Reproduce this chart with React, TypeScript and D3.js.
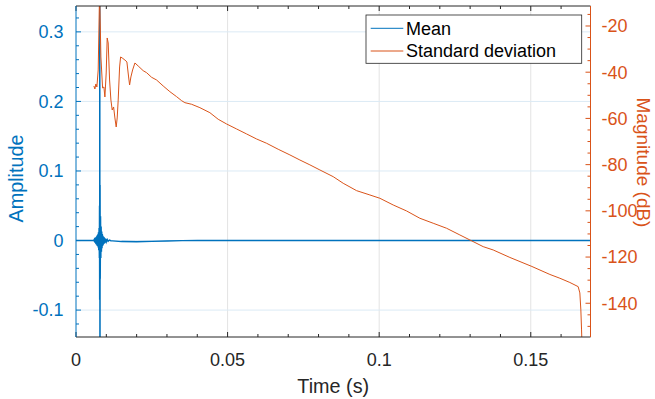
import React from "react";
import * as d3 from "d3";

// ---- data ----
// Mean (amplitude) samples: [time (s), amplitude]
const meanSeries: [number, number][] = [
  [0.0, 0], [0.0058, 0], [0.006, 0.0015], [0.0061, -0.002], [0.0062, 0.003], [0.0063, -0.0035],
  [0.0064, 0.004], [0.0065, -0.0045], [0.0066, 0.005], [0.0067, -0.0055], [0.0068, 0.006],
  [0.0069, -0.007], [0.007, 0.0075], [0.0071, -0.008], [0.0072, 0.009], [0.0073, -0.01],
  [0.0074, 0.012], [0.0075, -0.014], [0.0076, 0.018], [0.0077, -0.025], [0.00775, 0.05],
  [0.0078, -0.085], [0.00785, 0.6], [0.0079, -0.6], [0.00795, 0.08], [0.008, -0.055],
  [0.0081, 0.035], [0.0082, -0.025], [0.0083, 0.02], [0.0084, -0.016], [0.0085, 0.013],
  [0.0086, -0.011], [0.0087, 0.0095], [0.0088, -0.008], [0.0089, 0.007], [0.009, -0.006],
  [0.0091, 0.0055], [0.0092, -0.005], [0.0093, 0.0045], [0.0094, -0.004], [0.0095, 0.0035],
  [0.0096, -0.003], [0.0098, 0.0025], [0.01, -0.002], [0.0103, 0.0015], [0.0106, -0.0012],
  [0.011, 0.0006], [0.0115, -0.0003], [0.012, -0.0005], [0.015, -0.0015], [0.02, -0.0018],
  [0.025, -0.0012], [0.03, -0.0006], [0.035, -0.0002], [0.04, 0], [0.1697, 0],
];

// Standard deviation (magnitude, dB) samples: [time (s), dB]
const stdSeries: [number, number][] = [
  [0.0059, -45.96], [0.00623, -47.26], [0.00656, -45.1], [0.00689, -46.4], [0.00732, -39.04],
  [0.00778, -5], [0.00821, -33.41], [0.00877, -46.83], [0.0092, -46.4], [0.00953, -50.72],
  [0.00996, -40.34], [0.01029, -25.19], [0.01062, -27.36], [0.01108, -43.37], [0.01151, -52.02],
  [0.01194, -56.35], [0.0124, -55.05], [0.01283, -59.81], [0.01326, -63.7], [0.01359, -59.81],
  [0.01392, -52.02], [0.01438, -37.74], [0.01471, -33.41], [0.01524, -33.85], [0.01613, -34.71],
  [0.01679, -35.58], [0.01735, -42.07], [0.01768, -45.53], [0.01811, -42.07], [0.01867, -39.04],
  [0.01943, -36.01], [0.02051, -37.31], [0.02216, -39.34], [0.02328, -40.21], [0.02493, -42.2],
  [0.02658, -43.37], [0.02876, -45.96], [0.03097, -48.43], [0.03318, -50.59], [0.03483, -52.32],
  [0.03592, -53.19], [0.03813, -53.88], [0.04086, -55.35], [0.04416, -57.52], [0.0469, -60.37],
  [0.04967, -62.41], [0.05297, -64.57], [0.05627, -66.73], [0.05956, -68.9], [0.06286, -70.76],
  [0.06669, -73.35], [0.07055, -75.8], [0.07385, -78.0], [0.07714, -80.1], [0.08044, -82.31],
  [0.08483, -85.21], [0.08813, -88.07], [0.09255, -91.27], [0.09693, -93.13], [0.10023, -94.56],
  [0.10462, -97.46], [0.10904, -100.05], [0.11342, -103.21], [0.11781, -105.37], [0.12223, -107.54],
  [0.12662, -110.44], [0.12991, -112.6], [0.1343, -115.5], [0.1376, -116.93], [0.14311, -120.17],
  [0.15036, -124.07], [0.1563, -127.53], [0.1596, -129.17], [0.16289, -131.0], [0.16563, -132.8],
  [0.16619, -135.53], [0.16652, -142.89], [0.16675, -151.54], [0.16695, -160],
];

const xMajor = [0, 0.05, 0.1, 0.15];
const xMajorLabels = ["0", "0.05", "0.1", "0.15"];
const xMinor = [0.01, 0.02, 0.03, 0.04, 0.06, 0.07, 0.08, 0.09, 0.11, 0.12, 0.13, 0.14, 0.16];
const yLMajor = [-0.1, 0, 0.1, 0.2, 0.3];
const yLMajorLabels = ["-0.1", "0", "0.1", "0.2", "0.3"];
const yLMinor = [-0.12, -0.08, -0.06, -0.04, -0.02, 0.02, 0.04, 0.06, 0.08, 0.12, 0.14, 0.16, 0.18, 0.22, 0.24, 0.26, 0.28, 0.32];
const yRMajor = [-140, -120, -100, -80, -60, -40, -20];
const yRMajorLabels = ["-140", "-120", "-100", "-80", "-60", "-40", "-20"];
const yRMinor = [-150, -145, -135, -130, -125, -115, -110, -105, -95, -90, -85, -75, -70, -65, -55, -50, -45, -35, -30, -25, -15];
const legendLabels = ["Mean", "Standard deviation"];

const BLUE = "#0072BD";
const ORANGE = "#D95319";
const DARK = "#262626";
const FONT = "'Liberation Sans', Arial, Helvetica, sans-serif";

export default function App() {
  const W = 655, H = 399;
  const L = 76, R = 590.5, T = 6, B = 337;
  const x = d3.scaleLinear().domain([0, 0.1697]).range([L, R]);
  const yL = d3.scaleLinear().domain([-0.1387, 0.3372]).range([B, T]);
  const yR = d3.scaleLinear().domain([-154.6, -11.35]).range([B, T]);

  const meanLine = d3.line<[number, number]>().x(d => x(d[0])).y(d => yL(d[1]))(meanSeries) || "";
  const stdLine = d3.line<[number, number]>().x(d => x(d[0])).y(d => yR(d[1]))(stdSeries) || "";

  const tickLen = 5;
  const minorLen = 3;

  return (
    <div style={{ position: "fixed", left: 0, top: 0 }}>
      <svg width={W} height={H} style={{ display: "block", background: "#fff" }} fontFamily={FONT}>
        <defs>
          <clipPath id="plotclip">
            <rect x={L} y={T} width={R - L} height={B - T} />
          </clipPath>
        </defs>
        {/* grid */}
        {xMajor.filter(v => v > 0).map((v, i) => (
          <line key={"gx" + i} x1={x(v)} x2={x(v)} y1={T} y2={B} stroke="#e3e3e3" strokeWidth={1} />
        ))}
        {yLMajor.map((v, i) => (
          <line key={"gy" + i} x1={L} x2={R} y1={yL(v)} y2={yL(v)} stroke="#dbeaf5" strokeWidth={1} />
        ))}
        {/* data */}
        <g clipPath="url(#plotclip)">
          <path d={meanLine} fill="none" stroke={BLUE} strokeWidth={1.4} />
          <path d={stdLine} fill="none" stroke={ORANGE} strokeWidth={1} />
        </g>
        {/* top and bottom axes */}
        <line x1={L} x2={R} y1={B} y2={B} stroke={DARK} strokeWidth={1} />
        <line x1={L} x2={R} y1={T} y2={T} stroke={DARK} strokeWidth={1} />
        {xMajor.map((v, i) => (
          <g key={"xt" + i}>
            <line x1={x(v)} x2={x(v)} y1={B} y2={B - tickLen} stroke={DARK} />
            <line x1={x(v)} x2={x(v)} y1={T} y2={T + tickLen} stroke={DARK} />
            <text x={x(v)} y={366} textAnchor="middle" fontSize={18} fill={DARK}>{xMajorLabels[i]}</text>
          </g>
        ))}
        {xMinor.map((v, i) => (
          <g key={"xm" + i}>
            <line x1={x(v)} x2={x(v)} y1={B} y2={B - minorLen} stroke={DARK} />
            <line x1={x(v)} x2={x(v)} y1={T} y2={T + minorLen} stroke={DARK} />
          </g>
        ))}
        <text x={(L + R) / 2} y={393} textAnchor="middle" fontSize={19.8} fill={DARK}>Time (s)</text>
        {/* left axis */}
        <line x1={L} x2={L} y1={T} y2={B} stroke={BLUE} strokeWidth={1} />
        {yLMajor.map((v, i) => (
          <g key={"yl" + i}>
            <line x1={L} x2={L + tickLen} y1={yL(v)} y2={yL(v)} stroke={BLUE} />
            <text x={63.5} y={yL(v) + 6.3} textAnchor="end" fontSize={18} fill={BLUE}>{yLMajorLabels[i]}</text>
          </g>
        ))}
        {yLMinor.map((v, i) => (
          <line key={"ylm" + i} x1={L} x2={L + minorLen} y1={yL(v)} y2={yL(v)} stroke={BLUE} />
        ))}
        <text transform={`translate(23.3,178.5) rotate(-90)`} textAnchor="middle" fontSize={19.8} fill={BLUE}>Amplitude</text>
        {/* right axis */}
        <line x1={R} x2={R} y1={T} y2={B} stroke={ORANGE} strokeWidth={1} />
        {yRMajor.map((v, i) => (
          <g key={"yr" + i}>
            <line x1={R} x2={R - tickLen} y1={yR(v)} y2={yR(v)} stroke={ORANGE} />
            <text x={601.5} y={yR(v) + 6.3} textAnchor="start" fontSize={18} fill={ORANGE}>{yRMajorLabels[i]}</text>
          </g>
        ))}
        {yRMinor.map((v, i) => (
          <line key={"yrm" + i} x1={R} x2={R - minorLen} y1={yR(v)} y2={yR(v)} stroke={ORANGE} />
        ))}
        <text transform={`translate(636.8,162.5) rotate(90)`} textAnchor="middle" fontSize={19} fill={ORANGE}>Magnitude (dB)</text>
        {/* legend */}
        <rect x={366} y={15} width={215.7} height={48.3} fill="#fff" stroke={DARK} strokeWidth={0.8} />
        {[BLUE, ORANGE].map((c, i) => (
          <g key={"lg" + i}>
            <line x1={370.7} x2={403.3} y1={28.3 + i * 22.7} y2={28.3 + i * 22.7} stroke={c} strokeWidth={1} />
            <text x={406} y={34.6 + i * 22.7} fontSize={18} fill="#000">{legendLabels[i]}</text>
          </g>
        ))}
      </svg>
    </div>
  );
}
